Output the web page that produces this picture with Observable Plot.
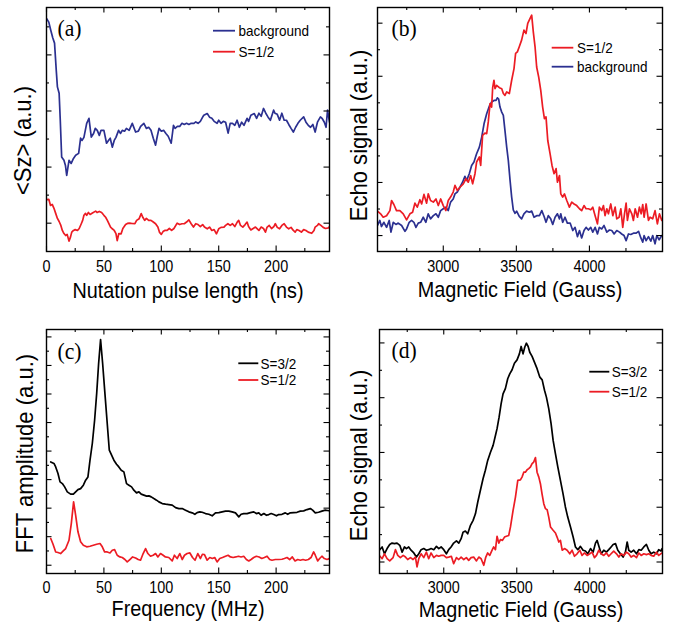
<!DOCTYPE html>
<html><head><meta charset="utf-8">
<script src="https://cdn.jsdelivr.net/npm/d3@7"></script>
<script src="https://cdn.jsdelivr.net/npm/@observablehq/plot@0.6"></script>
<style>
html,body{margin:0;padding:0;background:#fff;}
#chart{position:relative;width:676px;height:631px;overflow:hidden;font-family:"Liberation Sans",Arial,sans-serif;}
#chart svg{position:absolute;}
</style></head><body><div id="chart"></div>
<script>
// ---------- Panel (a): nutation ----------
const aBgX = [0,2,3.7,5.5,7,8.5,9.5,11,12,13.2,15.2,16.5,17.6,19.6,21.5,23.5,25.4,28,29.7,31,32.6,35,37,39,41,42.5,44.2,46,47.5,50,52.3,54,55.5,57.3,59,60.5,62.8,64.5,66,68,69.6,72,74.7,77.6,80,82,84.8,87,89,91,93,95,96.5,98,100,102,104,106,108.6,110.6,112,114,116,118,120,122,124,126,128.4,130,132,134,136,137,140,142,144,146,148.6,150,152,154,156,158.2,160,162,164,166,168,170,172,174.7,176,178,181,183,185,187,189,191,193,195,197.8,199,201,203,205,207,209,211,213,215,217,219,221,224,226,228,230,232,234,236,238.6,240,242,243.5,244.8,246.5];
const aBgY = [7.30,7.17,6.88,6.60,6.42,5.45,4.86,4.63,3.67,2.36,2.24,2.06,1.70,2.24,2.13,2.31,2.42,2.49,3.03,2.95,3.06,3.56,3.74,3.07,3.20,3.38,3.31,3.13,3.31,3.31,2.85,2.95,3.03,2.71,2.95,3.06,3.31,3.20,3.31,3.28,3.38,3.31,3.56,3.25,3.28,3.45,3.56,3.38,3.42,3.31,3.03,2.78,3.10,3.38,3.28,3.31,3.20,3.10,2.85,3.49,3.38,3.45,3.45,3.56,3.52,3.56,3.52,3.56,3.56,3.61,3.56,3.63,3.78,3.85,3.91,3.78,3.74,3.63,3.56,3.67,3.56,3.63,3.60,3.21,3.56,3.56,3.49,3.67,3.42,3.60,3.49,3.74,3.63,3.85,3.91,3.74,3.92,3.81,4.09,3.92,3.78,3.67,4.03,3.92,3.88,3.67,3.92,3.67,3.67,3.52,3.38,3.25,3.42,3.56,3.67,3.79,3.60,3.49,3.42,3.52,3.25,3.60,3.79,3.74,3.60,3.42,4.03,3.60];
const aS12X = [0,2,3.5,5,6.5,8,9.5,11,12.5,13.8,15.2,16.7,18,19.6,21,22,23.5,25,27,28.5,30.3,31.5,32.6,34,35,36.5,38,40,42.8,44,46,48,50,51.5,53,55.8,57,59,60.5,61.6,63,65,66.5,68.9,70.5,72,74,77,78.5,80.7,82.5,84,85.5,87,89,91,93,95,97,98.5,100,101.5,103,105,107,109,111,113.8,116,118,120,122,124,126,128,130,132,134,136,137.6,140,142,144,146,148,150,152,154.6,156,158,160,162,164,166,167.4,169,171,173,174.7,176,178,180,182,185,187,189,190.7,192,194,196,198,199.3,201,203,205,207,209,211,213,215,216.6,218,220,222,224,226,228,231,233,234,236,237,239,241,243,245.5,246.5];
const aS12Y = [0.84,0.85,0.63,0.67,0.53,0.35,0.17,0.06,-0.08,-0.26,-0.37,-0.44,-0.40,-0.64,-0.48,-0.32,-0.26,-0.23,-0.26,-0.19,-0.02,0.10,0.28,0.35,0.28,0.38,0.31,0.36,0.43,0.38,0.42,0.38,0.28,0.21,0.10,-0.14,-0.19,-0.26,-0.37,-0.62,-0.37,-0.38,-0.19,-0.05,-0.01,0,-0.01,-0.02,0.10,0.16,0.34,0.20,0.10,0.17,0.10,0.10,0.04,-0.02,-0.14,-0.33,-0.40,-0.30,-0.26,-0.26,-0.19,-0.26,-0.19,0,-0.05,-0.02,-0.02,0.04,0.12,-0.02,-0.14,-0.02,-0.05,-0.12,-0.05,-0.14,-0.20,-0.14,-0.26,-0.23,-0.38,-0.20,-0.15,-0.14,-0.08,-0.02,-0.08,-0.02,-0.12,0.03,0.10,-0.08,-0.14,-0.05,0.04,-0.12,-0.24,-0.19,-0.14,-0.26,-0.14,-0.19,-0.32,-0.15,-0.08,-0.19,-0.12,-0.02,-0.15,-0.20,-0.08,-0.02,-0.14,-0.20,-0.15,-0.26,-0.32,-0.23,-0.26,-0.32,-0.23,-0.26,-0.32,-0.36,-0.26,-0.14,-0.08,-0.02,-0.08,-0.15,-0.19,-0.17,-0.12];

// ---------- Panel (b): echo vs field ----------
const bS12X = [2550,2571,2589,2612,2635,2646,2662,2680,2703,2726,2749,2772,2790,2806,2822,2840,2852,2868,2886,2897,2913,2932,2950,2966,2982,3000,3018,3034,3050,3068,3080,3096,3114,3137,3155,3171,3187,3201,3217,3228,3247,3256,3269,3285,3297,3308,3320,3331,3338,3347,3354,3365,3384,3400,3411,3422,3434,3452,3468,3484,3495,3507,3520,3536,3552,3566,3578,3594,3605,3616,3628,3639,3653,3667,3680,3692,3703,3715,3731,3744,3758,3772,3781,3795,3804,3817,3829,3845,3863,3879,3895,3913,3932,3947,3963,3977,3993,4009,4023,4039,4055,4068,4084,4096,4107,4119,4130,4146,4160,4176,4187,4203,4215,4228,4240,4251,4260,4274,4290,4301,4313,4329,4342,4354,4365,4374,4388,4404,4415,4433,4449,4465,4479,4495];
const bS12Y = [0.92,0.82,0.69,0.75,0.94,1.32,1.17,0.94,0.94,0.82,0.59,0.82,0.88,1.22,1.07,1.35,1.19,1.55,1.22,1.57,1.32,1.26,1.38,1.13,1.38,1.13,0.94,1.32,1.45,1.64,1.89,1.70,1.82,1.95,2.14,2.01,2.26,1.95,2.33,2.77,2.96,2.64,3.77,3.86,3.84,4.28,4.97,4.84,5.57,5.85,5.53,5.66,5.57,5.53,5.35,5.28,5.41,5.35,5.85,6.29,6.86,6.92,7.11,7.36,7.74,7.61,7.99,8.18,8.30,7.67,7.11,6.35,5.97,5.47,4.84,4.40,4.47,3.58,3.08,2.64,2.33,2.52,2.01,2.26,1.57,1.45,1.57,1.32,1.07,1.26,1.19,1.13,1.01,0.94,1.13,1.01,1.01,0.97,1.07,0.75,0.44,1.07,0.94,1.13,0.75,1.01,0.82,1.19,0.75,1.07,0.63,0.69,1.01,0.31,0.82,1.22,0.57,1.01,0.82,0.57,1.01,0.69,1.07,0.82,1.17,0.69,1.19,0.57,0.69,0.63,0.94,0.44,0.82,0.57];
const bBgX = [2550,2566,2577,2594,2612,2630,2642,2658,2676,2692,2715,2738,2749,2767,2783,2799,2813,2829,2845,2863,2881,2897,2913,2932,2950,2966,2982,3000,3018,3034,3050,3068,3080,3096,3114,3132,3148,3160,3178,3194,3210,3228,3247,3263,3279,3297,3315,3331,3347,3361,3370,3379,3388,3400,3411,3422,3434,3445,3457,3468,3479,3491,3502,3520,3536,3552,3570,3589,3605,3621,3639,3658,3674,3690,3703,3719,3735,3749,3765,3781,3795,3804,3817,3833,3849,3868,3886,3902,3918,3932,3947,3963,3977,3993,4009,4023,4039,4055,4068,4084,4100,4119,4137,4153,4169,4187,4206,4221,4237,4251,4267,4283,4301,4320,4336,4352,4365,4374,4388,4404,4420,4433,4449,4461,4477,4495];
const bBgY = [0.38,0.57,0.34,0.50,0.31,0.57,0.13,0.50,0.42,0.47,0.38,0.16,0.25,0.50,0.57,0.50,0.31,0.47,0.50,0.69,0.50,0.82,0.63,0.75,0.82,0.69,0.94,1.01,1.07,0.94,1.26,1.38,1.57,1.64,1.82,2.01,2.23,2.08,2.33,2.64,2.77,3.08,3.33,3.71,4.21,4.59,4.87,5.03,5.09,5.09,5.19,5.14,4.84,4.65,4.53,3.96,3.33,2.83,2.08,1.45,0.97,0.84,0.92,0.72,0.63,0.82,0.92,0.88,0.92,0.69,0.75,0.75,0.94,0.72,0.50,0.75,0.63,0.42,0.69,0.82,0.63,0.82,0.50,0.69,0.47,0.47,0.19,0.31,-0.04,0.19,-0.09,0.19,0.31,0.21,0.31,0.13,0.31,0.06,0.31,0.25,0.38,0.13,0.21,0.19,0.06,0.19,0.13,0.06,0,-0.19,0.06,0.04,0.09,0.09,0.16,-0.09,-0.25,0,-0.19,-0.04,-0.21,0,-0.31,0,-0.16,0];

// ---------- Panel (c): FFT ----------
const cS32X = [3.7,6.5,8.0,10,11.8,13.8,15.8,18.1,21.0,23.4,25.4,27.4,29.7,32.1,34.1,36.1,37.9,39.9,41.9,43.7,45.4,47.1,48.9,50.9,52.9,54.7,56.7,58.7,61.0,63.0,65.1,67.4,69.7,71.8,74.1,76.1,78.4,80.5,82.5,84.8,87.2,89.2,91.2,93.5,95.8,97.9,100.8,103.7,106.5,109.5,112.4,115.3,118.2,121.1,124.0,126.9,129.2,131.2,133.5,135.6,138.5,141.4,144.3,147.2,150.1,153.0,155.9,158.8,161.7,164.6,167.5,169.5,171.8,174.7,177.6,180.5,182.8,184.9,186.9,189.3,191.6,193.6,195.7,198.0,200.3,202.3,205.1,208.0,210.1,212.4,215.3,218.2,221.1,224.0,226.9,229.8,231.8,234.1,237.0,239.9,242.8,246.6];
const cS32Y = [7.24,7.13,6.89,6.43,5.84,5.72,5.49,5.14,4.98,4.98,5.14,5.30,5.37,5.61,5.96,6.19,7.36,8.53,10.16,12.03,14.14,15.82,14.14,12.03,9.93,8.06,7.71,7.36,7.08,6.89,6.66,6.54,5.72,5.61,5.49,5.26,5.07,5.14,4.98,4.91,4.84,4.86,4.79,4.67,4.56,4.44,4.32,4.28,4.25,4.21,4.04,3.97,3.97,3.86,3.74,3.67,3.57,3.69,3.74,3.71,3.62,3.57,3.46,3.67,3.69,3.74,3.79,3.79,3.74,3.67,3.39,3.57,3.62,3.62,3.69,3.74,3.62,3.67,3.50,3.62,3.50,3.55,3.62,3.55,3.46,3.55,3.57,3.67,3.57,3.67,3.69,3.71,3.79,3.81,3.90,3.97,3.86,3.67,3.71,3.79,3.86,3.81];
const cS12X = [3.7,5.7,8.0,10.0,12.3,14.6,16.7,19.6,21.6,23.6,25.4,27.4,29.7,32.1,35.0,37.9,40.8,43.7,46.6,48.6,50.6,52.9,55.3,57.3,59.3,61.6,63.9,66.0,68.3,70.3,72.6,75.0,77.6,79.9,81.9,84.2,86.3,88.3,90.6,92.9,95.0,97.0,99.3,101.6,103.6,106.5,109.5,111.4,113.8,116.1,118.2,120.2,122.5,124.9,127.2,129.4,131.8,134.1,135.8,137.6,139.9,142.2,144.5,146.5,148.6,150.9,153.3,155.9,158.2,160.2,162.6,164.9,167.2,169.5,171.8,174.1,176.2,178.2,180.5,182.8,185.2,187.5,189.8,192.1,194.4,196.4,199.3,202.3,205.1,207.2,209.5,211.8,214.1,216.5,218.8,221.1,223.4,225.7,228.1,230.4,232.7,234.1,236.2,237.9,239.9,242.0,244.3,246.6];
const cS12Y = [1.87,1.47,0.93,0.89,0.82,1.00,1.17,1.75,2.92,4.44,3.50,2.34,1.64,1.40,1.29,1.33,1.40,1.47,1.52,1.29,0.93,0.93,0.86,1.05,1.10,0.70,0.58,0.54,0.40,0.23,0.40,0.58,0.51,0.40,0.35,0.82,1.17,0.82,0.63,0.70,0.82,0.58,0.82,0.70,0.58,0.54,0.30,0.70,0.47,0.82,0.40,0.70,0.82,0.86,0.54,0.35,0.82,0.47,0.77,0.75,0.35,0.54,0.47,0.54,0.23,0.47,0.54,0.63,0.70,0.58,0.54,0.58,0.63,0.58,0.63,0.40,0.30,0.40,0.54,0.63,0.58,0.47,0.54,0.63,0.40,0.35,0.40,0.40,0.42,0.47,0.54,0.40,0.58,0.30,0.40,0.35,0.40,0.35,0.40,0.54,0.93,0.70,0.30,0.47,0.63,0.47,0.40,0.47];

// ---------- Panel (d): echo vs field ----------
const dS32X = [2559,2578,2594,2612,2630,2646,2662,2680,2699,2715,2731,2744,2760,2776,2795,2813,2829,2845,2863,2881,2897,2913,2932,2950,2966,2982,3000,3018,3034,3050,3068,3087,3103,3119,3132,3148,3164,3183,3201,3217,3233,3251,3269,3285,3301,3320,3338,3354,3365,3379,3393,3406,3422,3438,3452,3468,3484,3502,3518,3530,3543,3555,3566,3578,3589,3605,3621,3639,3658,3674,3690,3703,3719,3735,3749,3765,3781,3799,3817,3833,3849,3868,3886,3902,3918,3936,3954,3970,3986,4005,4023,4039,4050,4064,4078,4096,4114,4130,4146,4160,4176,4192,4210,4228,4244,4256,4267,4283,4301,4320,4336,4352,4370,4388,4404,4420,4438,4457,4472,4488,4495];
const dS32Y = [0.43,0.55,0.30,0.49,0.64,0.69,0.67,0.69,0.61,0.36,0.55,0.49,0.55,0.43,0.33,0.18,0.30,0.45,0.49,0.43,0.45,0.49,0.45,0.57,0.49,0.55,0.45,0.30,0.45,0.55,0.69,0.77,0.69,0.85,1.09,1.13,1.03,1.34,1.52,1.76,2.19,2.62,3.04,3.35,3.71,4.01,4.26,4.62,4.87,5.29,5.78,6.14,6.33,6.69,6.87,7.02,7.26,7.38,7.60,7.87,7.60,7.85,7.99,7.87,7.66,7.51,7.30,7.06,6.75,6.65,6.27,6.02,5.60,5.05,4.44,3.95,3.47,2.98,2.49,2.01,1.64,1.28,0.91,0.55,0.45,0.57,0.43,0.40,0.30,0.49,0.36,0.69,0.79,0.55,0.30,0.43,0.36,0.45,0.55,0.64,0.67,0.43,0.30,0.18,0.36,0.73,0.43,0.36,0.43,0.30,0.45,0.43,0.55,0.64,0.43,0.30,0.36,0.30,0.45,0.40,0.49];
const dS12X = [2559,2578,2594,2612,2630,2653,2669,2685,2703,2722,2738,2753,2772,2790,2806,2817,2829,2845,2863,2881,2897,2913,2932,2950,2966,2982,3000,3018,3034,3052,3068,3087,3103,3119,3137,3155,3171,3187,3205,3224,3240,3256,3274,3288,3301,3315,3331,3342,3354,3365,3377,3388,3402,3416,3429,3445,3457,3475,3491,3507,3525,3536,3548,3559,3571,3582,3594,3605,3616,3628,3639,3651,3662,3673,3685,3696,3708,3719,3731,3749,3765,3776,3788,3799,3811,3827,3845,3863,3879,3895,3913,3932,3947,3963,3982,4000,4016,4032,4046,4062,4078,4096,4114,4130,4146,4164,4183,4199,4215,4233,4251,4267,4283,4301,4320,4336,4352,4370,4388,4404,4420,4438,4457,4472,4495];
const dS12Y = [0.24,0.12,0.30,0.12,0.04,0.16,0.45,0.24,0.16,0.24,0.18,0.09,0.16,0.09,0.18,-0.18,0.12,0.30,0.16,0.36,0.12,0.33,0.16,0.24,0.21,0.24,0.24,0.16,0.18,0.21,-0.06,0.16,0.09,0.18,0.09,0.16,0.06,0.16,0.18,0.04,0.18,0.12,-0.12,0.18,0.33,0.24,0.43,0.55,0.45,0.94,0.69,0.82,0.79,0.91,0.94,0.97,1.28,1.89,2.37,2.98,3.00,3.10,3.28,3.28,3.37,3.41,3.47,3.59,3.65,3.81,3.28,3.10,2.86,2.49,2.13,1.95,1.91,1.64,1.28,1.16,1.06,0.91,0.73,0.79,0.43,0.49,0.43,0.30,0.43,0.21,0.30,0.43,0.24,0.33,0.24,0.30,0.36,0.16,0.24,0.43,0.30,0.24,0.33,0.21,0.30,0.40,0.30,0.18,0.30,0.24,0.36,0.30,0.18,0.24,0.16,0.33,0.24,0.30,0.27,0.30,0.24,0.21,0.36,0.24,0.33];

// ---------- ticks and labels ----------
const nsTickLabels = [0, 50, 100, 150, 200];
const nsMinorTicks = [25, 75, 125, 175, 225];
const gaussTickLabels = [3000, 3500, 4000];
const gaussMinorTicks = [2750, 3250, 3750, 4250];
const aYMajor = [0, 2, 4, 6], aYMinor = [1, 3, 5, 7];
const bYMajor = [0, 2, 4, 6, 8], bYMinor = [1, 3, 5, 7];
const cYMajor = [0, 2, 4, 6, 8, 10, 12, 14, 16], cYMinor = [1, 3, 5, 7, 9, 11, 13, 15];
const dYMajor = [0, 2, 4, 6, 8], dYMinor = [1, 3, 5, 7];
const xTitles = ["Nutation pulse length  (ns)", "Magnetic Field (Gauss)", "Frequency (MHz)", "Magnetic Field (Gauss)"];
const yTitles = ["<Sz> (a.u.)", "Echo signal (a.u.)", "FFT amplitude (a.u.)", "Echo signal (a.u.)"];
const tags = ["(a)", "(b)", "(c)", "(d)"];
const legendA = ["background", "S=1/2"], legendB = ["S=1/2", "background"], legendCD = ["S=3/2", "S=1/2"];

const BLUE = "#2b3090", RED = "#ec1c24", BLACK = "#000";
const zip = (X, Y) => X.map((x, i) => ({x, y: Y[i]}));
const chart = document.getElementById("chart");
const SANS = "'Liberation Sans', Arial, sans-serif";
const SERIF = "'Liberation Serif', 'Times New Roman', serif";

function panel(c) {
  const fw = c.width - c.ml - c.mr, fh = c.height - c.mt - c.mb;
  const MAJ = 5.5, MIN = 3, TW = 1.1;
  const ts = {stroke: BLACK, strokeWidth: TW};
  const marks = [
    ...c.series.map(s => Plot.line(s.data, {x: "x", y: "y", stroke: s.color, strokeWidth: 1.7, clip: true})),
    Plot.tickX(c.xMajor, {x: d => d, insetTop: fh - MAJ, ...ts}),
    Plot.tickX(c.xMajor, {x: d => d, insetBottom: fh - MAJ, ...ts}),
    Plot.tickX(c.xMinor, {x: d => d, insetTop: fh - MIN, ...ts}),
    Plot.tickX(c.xMinor, {x: d => d, insetBottom: fh - MIN, ...ts}),
    Plot.tickY(c.yMajor, {y: d => d, insetRight: fw - MAJ, ...ts}),
    Plot.tickY(c.yMajor, {y: d => d, insetLeft: fw - MAJ, ...ts}),
    Plot.tickY(c.yMinor, {y: d => d, insetRight: fw - MIN, ...ts}),
    Plot.tickY(c.yMinor, {y: d => d, insetLeft: fw - MIN, ...ts}),
    Plot.frame({stroke: BLACK, strokeWidth: 1.4}),
    Plot.axisX({ticks: c.xMajor, tickSize: 0, tickPadding: c.tickPad, fontSize: 16, label: null, tickFormat: d => String(d)}),
    Plot.text([c.xTitle], {text: d => d, frameAnchor: "bottom", textAnchor: "middle", dy: c.xTitleDy, lineAnchor: "bottom", fontSize: 22, ariaLabel: "xtitle"}),
    Plot.text([c.yTitle], {text: d => d, frameAnchor: "left", textAnchor: "middle", rotate: -90, dx: c.yTitleDx, dy: c.yTitleDy, lineAnchor: "bottom", fontSize: 24.5, ariaLabel: "ytitle"}),
    Plot.text([c.tag], {text: d => d, frameAnchor: "top-left", dx: c.tagDx, dy: c.tagDy, textAnchor: "start", lineAnchor: "bottom", fontSize: 24, fontFamily: SERIF, ariaLabel: "tag"})
  ];
  const svg = Plot.plot({
    width: c.width, height: c.height,
    marginTop: c.mt, marginRight: c.mr, marginBottom: c.mb, marginLeft: c.ml,
    x: {domain: c.xDomain},
    y: {domain: c.yDomain, axis: null},
    style: {fontFamily: SANS, color: BLACK, background: "transparent", overflow: "visible"},
    marks
  });
  svg.style.left = c.left + "px";
  svg.style.top = c.top + "px";
  chart.appendChild(svg);
  // legend
  const g = d3.select(svg).append("g").attr("aria-label", "legend");
  c.legend.forEach((it, i) => {
    const y = c.lg.y + i * c.lg.gap;
    g.append("line").attr("x1", c.lg.x1).attr("x2", c.lg.x2).attr("y1", y).attr("y2", y)
      .attr("stroke", it.color).attr("stroke-width", 1.8);
    g.append("text").attr("x", c.lg.tx).attr("y", y).attr("dy", "0.36em").attr("text-anchor", "start")
      .attr("font-size", 15).attr("font-family", SANS).attr("fill", BLACK).text(it.label);
  });
  return svg;
}

const COND = 0.9;
function condense(svg) {
  svg.querySelectorAll("text").forEach(t => {
    const p = t.closest("g[aria-label]");
    const lab = p ? p.getAttribute("aria-label") : "";
    if (lab === "tag" || lab === "ytitle") return;
    const L = t.getComputedTextLength();
    if (L > 0) { t.setAttribute("textLength", (L * COND).toFixed(2)); t.setAttribute("lengthAdjust", "spacingAndGlyphs"); }
  });
}

const pa = panel({
  left: 0, top: 0, width: 338, height: 315, mt: 7, mr: 9, mb: 64, ml: 46,
  xDomain: [0, 246.5], yDomain: [-1.01, 7.69],
  series: [{data: zip(aBgX, aBgY), color: BLUE}, {data: zip(aS12X, aS12Y), color: RED}],
  xMajor: nsTickLabels, xMinor: nsMinorTicks, yMajor: aYMajor, yMinor: aYMinor,
  tickPad: 9, xTitle: xTitles[0], xTitleDy: 46, yTitle: yTitles[0], yTitleDx: -16, yTitleDy: 11,
  tag: tags[0], tagDx: 11, tagDy: 28,
  legend: [{label: legendA[0], color: BLUE}, {label: legendA[1], color: RED}],
  lg: {x1: 213, x2: 235, tx: 238.5, y: 30.7, gap: 21}
});
const pb = panel({
  left: 338, top: 0, width: 338, height: 315, mt: 7, mr: 14, mb: 64, ml: 39,
  xDomain: [2550, 4500], yDomain: [-0.60, 8.59],
  series: [{data: zip(bBgX, bBgY), color: BLUE}, {data: zip(bS12X, bS12Y), color: RED}],
  xMajor: gaussTickLabels, xMinor: gaussMinorTicks, yMajor: bYMajor, yMinor: bYMinor,
  tickPad: 9, xTitle: xTitles[1], xTitleDy: 45, yTitle: yTitles[1], yTitleDx: -11, yTitleDy: 6,
  tag: tags[1], tagDx: 14, tagDy: 28,
  legend: [{label: legendB[0], color: RED}, {label: legendB[1], color: BLUE}],
  lg: {x1: 213.7, x2: 235.3, tx: 239, y: 47.7, gap: 19}
});
const pc = panel({
  left: 0, top: 315, width: 338, height: 316, mt: 14, mr: 9, mb: 58, ml: 46,
  xDomain: [0, 246.5], yDomain: [-0.58, 16.52],
  series: [{data: zip(cS32X, cS32Y), color: BLACK}, {data: zip(cS12X, cS12Y), color: RED}],
  xMajor: nsTickLabels, xMinor: nsMinorTicks, yMajor: cYMajor, yMinor: cYMinor,
  tickPad: 8, xTitle: xTitles[2], xTitleDy: 42, yTitle: yTitles[2], yTitleDx: -14, yTitleDy: 2,
  tag: tags[2], tagDx: 11, tagDy: 29,
  legend: [{label: legendCD[0], color: BLACK}, {label: legendCD[1], color: RED}],
  lg: {x1: 238.3, x2: 258.3, tx: 260.5, y: 48.3, gap: 16.7}
});
const pd = panel({
  left: 338, top: 315, width: 338, height: 316, mt: 14, mr: 14, mb: 58, ml: 41,
  xDomain: [2560, 4498], yDomain: [-0.42, 8.49],
  series: [{data: zip(dS32X, dS32Y), color: BLACK}, {data: zip(dS12X, dS12Y), color: RED}],
  xMajor: gaussTickLabels, xMinor: gaussMinorTicks, yMajor: dYMajor, yMinor: dYMinor,
  tickPad: 8, xTitle: xTitles[3], xTitleDy: 43, yTitle: yTitles[3], yTitleDx: -13, yTitleDy: 4,
  tag: tags[3], tagDx: 12, tagDy: 28,
  legend: [{label: legendCD[0], color: BLACK}, {label: legendCD[1], color: RED}],
  lg: {x1: 251.3, x2: 271.3, tx: 273.7, y: 56.7, gap: 20}
});

// subscript z in the <Sz> label
d3.select(pa).select("g[aria-label='ytitle'] text").each(function () {
  const t = d3.select(this);
  t.text("");
  t.append("tspan").text("<S");
  t.append("tspan").attr("dy", 7).attr("font-size", 15).text("z");
  t.append("tspan").attr("dy", -7).text(" > (a.u.)");
});

[pa, pb, pc, pd].forEach(condense);
</script>
</body></html>
